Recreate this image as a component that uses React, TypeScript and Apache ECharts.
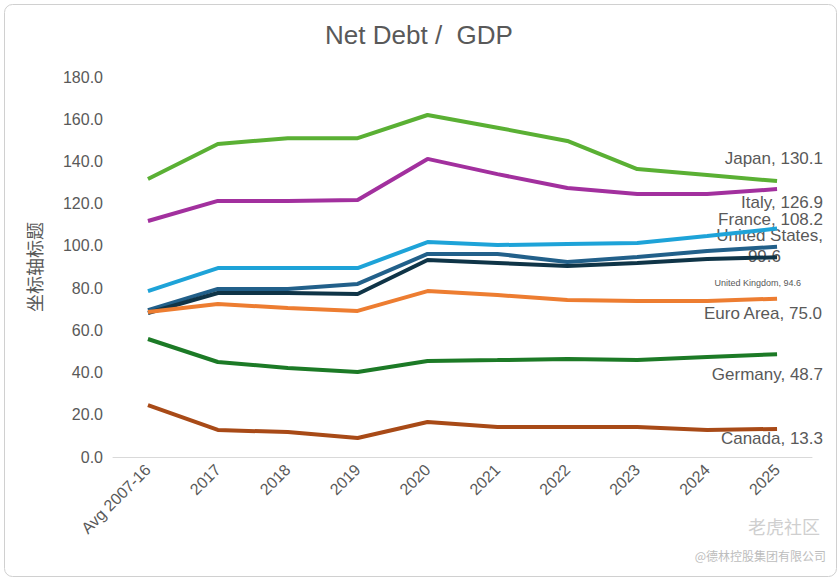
import React, { useRef, useEffect } from "react";
import * as echarts from "echarts";

const categories = ["Avg 2007-16", "2017", "2018", "2019", "2020", "2021", "2022", "2023", "2024", "2025"];
const japan = [131.7, 148.3, 151.0, 151.0, 162.0, 156.0, 149.7, 136.4, 133.6, 130.7];
const italy = [111.8, 121.3, 121.3, 121.7, 141.2, 134.0, 127.4, 124.6, 124.6, 126.9];
const france = [78.6, 89.5, 89.5, 89.5, 101.8, 100.4, 100.9, 101.4, 104.7, 108.2];
const unitedStates = [69.6, 79.6, 79.6, 82.0, 96.2, 96.2, 92.4, 94.7, 97.6, 99.6];
const unitedKingdom = [68.2, 77.7, 77.7, 77.2, 93.3, 91.9, 90.5, 91.9, 93.8, 94.6];
const euroArea = [68.7, 72.5, 70.6, 69.2, 78.6, 76.7, 74.4, 73.9, 73.9, 75.0];
const germany = [55.9, 45.0, 42.2, 40.3, 45.5, 45.9, 46.4, 45.9, 47.4, 48.7];
const canada = [24.6, 12.8, 11.8, 9.0, 16.6, 14.2, 14.2, 14.2, 12.8, 13.3];

const seriesList = [
  { name: "Japan", data: japan, color: "#5ab034" },
  { name: "Italy", data: italy, color: "#a2309e" },
  { name: "France", data: france, color: "#1ea3d8" },
  { name: "United States", data: unitedStates, color: "#22608a" },
  { name: "United Kingdom", data: unitedKingdom, color: "#0f3447" },
  { name: "Euro Area", data: euroArea, color: "#ed7d31" },
  { name: "Germany", data: germany, color: "#1c7a26" },
  { name: "Canada", data: canada, color: "#a84a17" },
];

const grey = "#595959";
const txt = (text: string, right: number, top: number, size = 17) => ({
  type: "text",
  right,
  top,
  style: { text, fill: grey, font: `${size}px "Liberation Sans", Arial, sans-serif` },
});

export default function App() {
  const chartRef = useRef<HTMLDivElement>(null);

  useEffect(() => {
    document.body.style.margin = "0";
    if (!chartRef.current) return;
    const chart = echarts.init(chartRef.current, null, { renderer: "svg" });
    chart.setOption({
      animation: false,
      title: {
        text: "Net Debt /  GDP",
        left: "center",
        top: 17,
        textStyle: { color: grey, fontSize: 26, fontWeight: "normal", fontFamily: "Liberation Sans, Arial" },
      },
      grid: { left: 113, right: 26, top: 77, bottom: 121 },
      xAxis: {
        type: "category",
        data: categories,
        axisTick: { show: false },
        axisLine: { lineStyle: { color: "#d9d9d9" } },
        axisLabel: { rotate: 45, color: grey, fontSize: 16, fontFamily: "Liberation Sans, Arial", margin: 10 },
      },
      yAxis: {
        type: "value",
        min: 0,
        max: 180,
        interval: 20,
        name: "坐标轴标题",
        nameLocation: "middle",
        nameGap: 70,
        nameTextStyle: { color: grey, fontSize: 18, fontFamily: "Noto Sans CJK SC" },
        splitLine: { show: false },
        axisLabel: { color: grey, fontSize: 16, fontFamily: "Liberation Sans, Arial", formatter: (v: number) => v.toFixed(1), margin: 10 },
      },
      series: seriesList.map((s) => ({
        name: s.name,
        type: "line",
        data: s.data,
        symbol: "none",
        lineStyle: { color: s.color, width: 4 },
        itemStyle: { color: s.color },
      })),
      graphic: [
        {
          type: "rect",
          left: 2,
          top: 2,
          shape: { width: 832, height: 572, r: 8 },
          style: { fill: "none", stroke: "#d0d0d0", lineWidth: 1 },
          silent: true,
        },
        txt("Japan, 130.1", 15, 150),
        txt("Italy, 126.9", 15, 194),
        txt("France, 108.2", 15, 211),
        txt("United States,", 15, 227),
        txt("99.6", 57, 248),
        txt("United Kingdom, 94.6", 37, 278, 9),
        txt("Euro Area, 75.0", 15, 305),
        txt("Germany, 48.7", 15, 366),
        txt("Canada, 13.3", 15, 430),
        { type: "text", right: 18, top: 517, style: { text: "老虎社区", fill: "#cfcfcf", font: '18px "Noto Sans CJK SC"' } },
        { type: "text", right: 12, top: 549, style: { text: "@德林控股集团有限公司", fill: "#bdbdbd", font: '12px "Noto Sans CJK SC"' } },
      ],
    });
    return () => chart.dispose();
  }, []);

  return <div ref={chartRef} style={{ width: 838, height: 578 }} />;
}
